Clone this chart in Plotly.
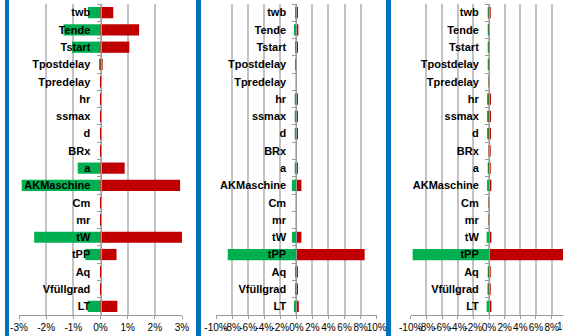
import plotly.graph_objects as go

categories = ["twb", "Tende", "Tstart", "Tpostdelay", "Tpredelay", "hr", "ssmax", "d",
              "BRx", "a", "AKMaschine", "Cm", "mr", "tW", "tPP", "Aq", "Vfüllgrad", "LT"]

# Panel 1 (percent)
p1_low = [-0.46, -1.36, -1.05, -0.05, -0.01, -0.01, -0.01, -0.01, -0.005, -0.84, -2.90, -0.01, -0.01, -2.44, -0.56, -0.01, -0.01, -0.47]
p1_high = [0.47, 1.42, 1.06, 0.08, 0.01, 0.02, 0.02, 0.02, 0.005, 0.89, 2.93, 0.01, 0.01, 3.00, 0.59, 0.01, 0.03, 0.62]
# Panel 2
p2_low = [-0.15, -0.30, -0.12, -0.05, -0.02, -0.20, -0.20, -0.20, -0.02, -0.20, -0.55, -0.02, -0.02, -0.55, -8.54, -0.10, -0.15, -0.30]
p2_high = [0.15, 0.25, 0.20, 0.05, 0.02, 0.20, 0.20, 0.20, 0.02, 0.20, 0.63, 0.02, 0.02, 0.63, 8.50, 0.10, 0.20, 0.30]
# Panel 3
p3_low = [-0.10, -0.15, -0.15, -0.15, -0.02, -0.25, -0.25, -0.25, -0.02, -0.10, -0.25, -0.03, -0.03, -0.30, -9.75, -0.10, -0.20, -0.30]
p3_high = [0.10, 0.05, 0.05, 0.05, 0.02, 0.25, 0.25, 0.25, 0.10, 0.10, 0.30, 0.03, 0.03, 0.30, 9.80, 0.15, 0.20, 0.30]

p1_ticks = [-3, -2, -1, 0, 1, 2, 3]
p2_ticks = [-10, -8, -6, -4, -2, 0, 2, 4, 6, 8, 10]
p3_ticks = [-10, -8, -6, -4, -2, 0, 2, 4, 6, 8]

W, H = 563, 336
GREEN = "#00B050"
RED = "#C00000"
BLUE = "#0070C0"
GRID = "#c3c3c3"
AXIS = "#9a9a9a"
FONT = "Liberation Sans, Arial, sans-serif"

panels = [
    dict(low=p1_low, high=p1_high, ticks=p1_ticks, rng=[-3, 3], dom=[19 / W, 182 / W]),
    dict(low=p2_low, high=p2_high, ticks=p2_ticks, rng=[-10, 10], dom=[216 / W, 376.7 / W]),
    dict(low=p3_low, high=p3_high, ticks=p3_ticks, rng=[-10, 9.45], dom=[410.7 / W, 1.0]),
]

ydom = [(H - 315) / H, (H - 4) / H]

fig = go.Figure()
layout = dict(
    width=W, height=H,
    margin=dict(l=0, r=0, t=0, b=0, autoexpand=False),
    paper_bgcolor="white", plot_bgcolor="white",
    showlegend=False, barmode="overlay",
    font=dict(family=FONT, color="black"),
)

for i, p in enumerate(panels):
    n = "" if i == 0 else str(i + 1)
    xa, ya = "x" + n, "y" + n
    fig.add_trace(go.Bar(y=categories, x=p["low"], orientation="h", marker_color=GREEN,
                         width=0.65, xaxis=xa, yaxis=ya, marker_line_width=0))
    fig.add_trace(go.Bar(y=categories, x=p["high"], orientation="h", marker_color=RED,
                         width=0.65, xaxis=xa, yaxis=ya, marker_line_width=0))
    r0, r1 = p["rng"]
    d0, d1 = p["dom"]
    zero_pos = d0 + (0 - r0) / (r1 - r0) * (d1 - d0)
    layout["xaxis" + n] = dict(
        domain=p["dom"], range=p["rng"], anchor=ya, automargin=False,
        tickvals=p["ticks"], ticktext=[f"{t}%" for t in p["ticks"]],
        tickangle=0, tickfont=dict(size=10, family=FONT, color="black"),
        showgrid=True, gridcolor=GRID, gridwidth=1.5, zeroline=False,
        showline=True, linecolor=AXIS, linewidth=1,
        ticks="outside", ticklen=3, tickcolor=AXIS,
    )
    layout["yaxis" + n] = dict(
        domain=ydom, anchor="free", position=zero_pos, automargin=False,
        categoryorder="array", categoryarray=categories[::-1],
        range=[-0.5, len(categories) - 0.5],
        tickfont=dict(size=11, family=FONT, color="black", weight="bold"),
        showline=True, linecolor=AXIS, linewidth=1,
        ticks="outside", ticklen=4, tickcolor=AXIS, tickson="boundaries",
        showgrid=False, zeroline=False, ticklabelstandoff=8,
    )
    if i == 2:
        # partially visible last tick label beyond the right edge
        layout["annotations"] = [dict(
            xref="paper", yref="paper",
            x=d0 + (10 - r0) / (r1 - r0) * (d1 - d0), y=ydom[0],
            yshift=-4, text="10%", showarrow=False, xanchor="center", yanchor="top",
            font=dict(size=10, family=FONT, color="black"),
        )]

shapes = []
for x0, x1 in [(5, 9), (196, 201), (386, 391)]:
    shapes.append(dict(type="rect", xref="paper", yref="paper",
                       x0=x0 / W, x1=x1 / W, y0=0, y1=1,
                       fillcolor=BLUE, line_width=0, layer="above"))
layout["shapes"] = shapes

fig.update_layout(**layout)
fig.write_html("out.html")
